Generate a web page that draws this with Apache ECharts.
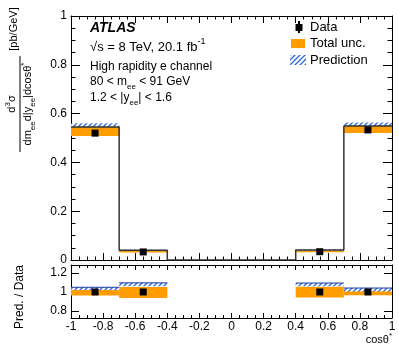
<!DOCTYPE html>
<html>
<head>
<meta charset="utf-8">
<script src="https://cdn.jsdelivr.net/npm/echarts@6/dist/echarts.min.js"></script>
<style>
html,body{margin:0;padding:0;background:#fff;}
#chart{width:399px;height:353px;}
</style>
</head>
<body>
<div id="chart"></div>
<script>
// cos(theta*) bins that carry data
var binLo = [-1, -0.7, 0.4, 0.7];
var binHi = [-0.7, -0.4, 0.7, 1];
var binCenter = [-0.85, -0.55, 0.55, 0.85];

// upper panel, pb/GeV
var dataVal = [0.520, 0.033, 0.034, 0.533];
var uncLo   = [0.508, 0.031, 0.032, 0.520];
var uncHi   = [0.545, 0.038, 0.039, 0.549];
var predVal = [0.545, 0.040, 0.041, 0.549];
var predLo  = [0.545, 0.038, 0.039, 0.549];
var predHi  = [0.560, 0.042, 0.043, 0.564];

// lower panel, Pred. / Data
var ratioData   = [1, 1, 1, 1];
var ratioUncLo  = [0.963, 0.937, 0.940, 0.966];
var ratioUncHi  = [1.020, 1.053, 1.056, 1.016];
var ratioPredLo = [1.020, 1.062, 1.060, 1.006];
var ratioPredHi = [1.050, 1.097, 1.095, 1.042];

var ratioTicks = [0.8, 1, 1.2];

var FONT = 'Liberation Sans, Arial, sans-serif';
var ORANGE = '#ff9c00';

// blue hatch used for the prediction band
var hatch = document.createElement('canvas');
hatch.width = 5; hatch.height = 5;
var hc = hatch.getContext('2d');
hc.fillStyle = '#fff'; hc.fillRect(0, 0, 5, 5);
hc.strokeStyle = '#2a66dd'; hc.lineWidth = 1.3;
hc.beginPath();
hc.moveTo(-1, 1); hc.lineTo(1, -1);
hc.moveTo(0, 5); hc.lineTo(5, 0);
hc.moveTo(4, 6); hc.lineTo(6, 4);
hc.stroke();
var hatchFill = {image: hatch, repeat: 'repeat'};

// main panel uses xAxis 0 / yAxis 0, ratio panel xAxis 2 / yAxis 1
function band(xi, yi, lo, hi, fill, z, edge){
    return {
        type: 'custom', xAxisIndex: xi, yAxisIndex: yi, z: z,
        silent: true, animation: false,
        data: binLo.map(function(l, i){ return [l, binHi[i], lo[i], hi[i]]; }),
        encode: {x: [0, 1], y: [2, 3]},
        renderItem: function(params, api){
            var p0 = api.coord([api.value(0), api.value(3)]);
            var p1 = api.coord([api.value(1), api.value(2)]);
            var r = {x: p0[0], y: p0[1], width: p1[0] - p0[0], height: p1[1] - p0[1]};
            var kids = [{type: 'rect', shape: r, style: {fill: fill}}];
            if(edge){
                kids.push({type: 'line', shape: {x1: p0[0], y1: p0[1], x2: p1[0], y2: p0[1]},
                    style: {stroke: edge, lineWidth: 1}});
            }
            return {type: 'group', children: kids};
        }
    };
}

// histogram outline, empty gaps drop to zero
var stepPts = [];
for(var i = 0; i < binLo.length; i++){
    if(i > 0 && binLo[i] != binHi[i-1]){
        stepPts.push([binHi[i-1], 0], [binLo[i], 0]);
    }
    stepPts.push([binLo[i], predVal[i]], [binHi[i], predVal[i]]);
}

function xAx(grid, pos, labels, major, minor){
    return {
        type: 'value', gridIndex: grid, position: pos, min: -1, max: 1, interval: 0.2,
        axisLine: {show: true, onZero: false, lineStyle: {color: '#000', width: 1}},
        axisTick: {show: true, inside: true, length: major, lineStyle: {color: '#000'}},
        minorTick: {show: true, splitNumber: 4, length: minor, lineStyle: {color: '#000'}},
        splitLine: {show: false},
        axisLabel: {show: labels, color: '#000', fontSize: 12, fontFamily: FONT, margin: 3}
    };
}

var yMain = function(pos, labels){
    return {
        type: 'value', gridIndex: 0, position: pos, min: 0, max: 1, interval: 0.2,
        axisLine: {show: true, onZero: false, lineStyle: {color: '#000', width: 1}},
        axisTick: {show: true, inside: true, length: 9, lineStyle: {color: '#000'}},
        minorTick: {show: true, splitNumber: 4, length: 4.5, lineStyle: {color: '#000'}},
        splitLine: {show: false},
        axisLabel: {show: labels, color: '#000', fontSize: 12, fontFamily: FONT, margin: 4}
    };
};
var yRatio = function(pos, labels){
    return {
        type: 'value', gridIndex: 1, position: pos, min: 0.723, max: 1.287,
        axisLine: {show: true, onZero: false, lineStyle: {color: '#000', width: 1}},
        axisTick: {show: true, inside: true, length: 8, customValues: ratioTicks, lineStyle: {color: '#000'}},
        splitLine: {show: false},
        axisLabel: {show: labels, customValues: ratioTicks, color: '#000', fontSize: 12, fontFamily: FONT, margin: 4}
    };
};

var txt = function(x, y, text, size, extra){
    var st = {text: text, fill: '#000', font: size + 'px ' + FONT, textVerticalAlign: 'middle'};
    for(var k in extra) st[k] = extra[k];
    return {type: 'text', x: x, y: y, style: st, silent: true};
};
var rich = function(size){
    return {
        n: {fontSize: size, fontFamily: FONT, lineHeight: size + 6, verticalAlign: 'middle'},
        sub: {fontSize: Math.round(size * 0.7), fontFamily: FONT, verticalAlign: 'bottom'},
        sup: {fontSize: Math.round(size * 0.7), fontFamily: FONT, verticalAlign: 'top'}
    };
};

var chart = echarts.init(document.getElementById('chart'));
chart.setOption({
    animation: false,
    backgroundColor: '#fff',
    grid: [
        {left: 71, right: 7, top: 16, height: 244},
        {left: 71, right: 7, top: 265, height: 53}
    ],
    xAxis: [xAx(0, 'bottom', false, 7, 3.5), xAx(0, 'top', false, 7, 3.5),
            xAx(1, 'bottom', true, 5, 3), xAx(1, 'top', false, 5, 3)],
    yAxis: [yMain('left', true), yRatio('left', true), yMain('right', false), yRatio('right', false)],
    series: [
        band(0, 0, uncLo, uncHi, ORANGE, 2),
        band(0, 0, predLo, predHi, hatchFill, 3),
        {
            type: 'line', xAxisIndex: 0, yAxisIndex: 0, z: 4, data: stepPts,
            symbol: 'none', lineStyle: {color: '#333', width: 1.5}, silent: true
        },
        {
            type: 'scatter', xAxisIndex: 0, yAxisIndex: 0, z: 5, symbol: 'rect', symbolSize: 7,
            itemStyle: {color: '#000', opacity: 1}, silent: true,
            data: binCenter.map(function(c, i){ return [c, dataVal[i]]; })
        },
        band(2, 1, ratioUncLo, ratioUncHi, ORANGE, 2),
        band(2, 1, ratioPredLo, ratioPredHi, hatchFill, 3, '#1b3f9e'),
        {
            type: 'scatter', xAxisIndex: 2, yAxisIndex: 1, z: 5, symbol: 'rect', symbolSize: 7,
            itemStyle: {color: '#000', opacity: 1}, silent: true,
            data: binCenter.map(function(c, i){ return [c, ratioData[i]]; })
        }
    ],
    graphic: [
        // legend
        {type: 'line', shape: {x1: 299, y1: 21, x2: 299, y2: 33}, style: {stroke: '#000', lineWidth: 2}, silent: true},
        {type: 'rect', shape: {x: 295.5, y: 24, width: 7, height: 7}, style: {fill: '#000'}, silent: true},
        txt(310, 27.5, 'Data', 13),
        {type: 'rect', shape: {x: 291, y: 39, width: 14, height: 9}, style: {fill: ORANGE}, silent: true},
        txt(310, 43.5, 'Total unc.', 13),
        {type: 'rect', shape: {x: 290, y: 55, width: 16, height: 10}, style: {fill: hatchFill}, silent: true},
        txt(310, 60, 'Prediction', 13),
        // labels
        txt(90, 28, 'ATLAS', 14, {font: 'italic bold 14px ' + FONT}),
        {type: 'text', x: 90, y: 47, silent: true, style: {
            text: '{n|√s = 8 TeV, 20.1 fb}{sup|-1}', rich: rich(13), fill: '#000', textVerticalAlign: 'middle'}},
        txt(90, 67, 'High rapidity e channel', 12),
        {type: 'text', x: 90, y: 82, silent: true, style: {
            text: '{n|80 < m}{sub|ee}{n| < 91 GeV}', rich: rich(12), fill: '#000', textVerticalAlign: 'middle'}},
        {type: 'text', x: 90, y: 98, silent: true, style: {
            text: '{n|1.2 < |y}{sub|ee}{n|| < 1.6}', rich: rich(12), fill: '#000', textVerticalAlign: 'middle'}},
        // x title
        {type: 'text', x: 392, y: 340, silent: true, style: {
            text: '{n|cosθ}{sup|*}', rich: rich(11), fill: '#000', textAlign: 'right', textVerticalAlign: 'middle'}},
        // ratio y title
        {type: 'text', x: 20, y: 297, rotation: Math.PI / 2, silent: true, style: {
            text: 'Pred. / Data', font: '12px ' + FONT, fill: '#000', textAlign: 'center', textVerticalAlign: 'middle'}},
        // main y title, drawn in a rotated group (local x runs upward)
        {type: 'group', x: 0, y: 160, rotation: Math.PI / 2, silent: true, children: [
            {type: 'text', x: 131, y: 14, style: {text: '[pb/GeV]', font: '11px ' + FONT, fill: '#000',
                textAlign: 'center', textVerticalAlign: 'middle'}},
            {type: 'line', shape: {x1: 8, y1: 20, x2: 104, y2: 20}, style: {stroke: '#000', lineWidth: 1}},
            {type: 'text', x: 56, y: 12, style: {text: '{n|d}{sup|3}{n|σ}', rich: rich(11), fill: '#000',
                textAlign: 'center', textVerticalAlign: 'middle'}},
            {type: 'text', x: 56, y: 28, style: {
                text: '{n|dm}{sub|ee}{n|d|y}{sub|ee}{n||dcosθ}{sup|*}', rich: rich(11), fill: '#000',
                textAlign: 'center', textVerticalAlign: 'middle'}}
        ]}
    ]
});
</script>
</body>
</html>
